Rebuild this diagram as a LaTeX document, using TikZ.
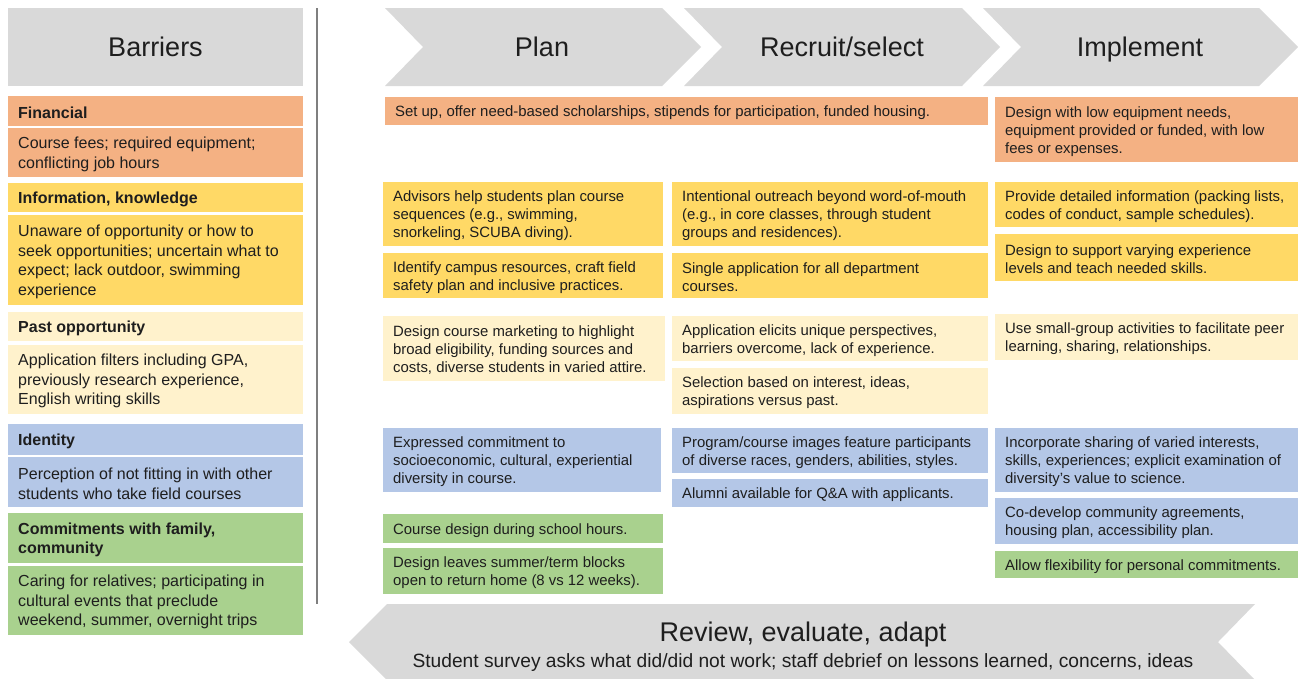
\documentclass[tikz,border=0pt]{standalone}
\usepackage{fontspec}
\setmainfont{Liberation Sans}
\definecolor{hdr}{HTML}{D9D9D9}
\definecolor{cor}{HTML}{F4B183}
\definecolor{cye}{HTML}{FFD966}
\definecolor{cly}{HTML}{FFF2CC}
\definecolor{cbl}{HTML}{B4C7E7}
\definecolor{cgr}{HTML}{A9D18E}
\definecolor{txt}{HTML}{1E1E1E}
\definecolor{vline}{HTML}{7F7F7F}
\tikzset{
  cellbox/.style={anchor=north west, inner sep=0pt, draw=none},
  cell/.style={anchor=west, inner xsep=0pt, inner ysep=0pt, align=left,
    text=txt, font=\fontsize{14.9}{18}\selectfont},
  lcell/.style={cell, font=\fontsize{16}{19.6}\selectfont},
  ltitle/.style={cell, font=\fontsize{16}{19.6}\selectfont\bfseries},
  hdrtext/.style={text=txt, font=\fontsize{27}{30}\selectfont, text height=19.5pt, text depth=5.5pt, inner sep=0pt},
  chev/.style={fill=hdr},
}
\newcommand\bx[7][]{%
  \pgfmathsetmacro\bw{#4-#2}\pgfmathsetmacro\bh{#5-#3}%
  \node[cellbox,fill=#6,minimum width=\bw pt,minimum height=\bh pt] (b#2-#3) at (#2,#3) {};
  \node[cell,#1] (t#2-#3) at ([xshift=10pt,yshift=-1.5pt]b#2-#3.west) {#7};}
\begin{document}
\begin{tikzpicture}[x=1pt,y=-1pt]
\useasboundingbox (0,0) rectangle (1298,678);
\begin{scope}
\clip (0,0) rectangle (1298,678);
% headers
\fill[hdr] (8,8) rectangle (303,86);
\node[hdrtext] (barriers) at (155.5,49) {Barriers};
\fill[chev] (385,8) -- (662,8) -- (701,47) -- (662,86) -- (385,86) -- (423,47) -- cycle;
\node[hdrtext] (plan) at (542,49) {Plan};
\fill[chev] (684,8) -- (962,8) -- (1000,47) -- (962,86) -- (684,86) -- (722,47) -- cycle;
\node[hdrtext] (recruit) at (842,49) {Recruit/select};
\fill[chev] (983,8) -- (1259,8) -- (1298,47) -- (1259,86) -- (983,86) -- (1021,47) -- cycle;
\node[hdrtext] (implement) at (1140,49) {Implement};
% divider
\coordinate (vtop) at (317,8);
\coordinate (vbot) at (317,604);
\draw[vline, line width=1.6pt] (vtop) -- (vbot);
% left column
\bx[ltitle]{8}{96}{303}{126}{cor}{Financial}
\bx[lcell]{8}{128}{303}{177}{cor}{Course fees; required equipment;\\conflicting job hours}
\bx[ltitle]{8}{183}{303}{212}{cye}{Information, knowledge}
\bx[lcell]{8}{215}{303}{305}{cye}{Unaware of opportunity or how to\\seek opportunities; uncertain what to\\expect; lack outdoor, swimming\\experience}
\bx[ltitle]{8}{312}{303}{341}{cly}{Past opportunity}
\bx[lcell]{8}{345}{303}{414}{cly}{Application filters including GPA,\\previously research experience,\\English writing skills}
\bx[ltitle]{8}{424}{303}{455}{cbl}{Identity}
\bx[lcell]{8}{457}{303}{507}{cbl}{Perception of not fitting in with other\\students who take field courses}
\bx[ltitle]{8}{513}{303}{563}{cgr}{Commitments with family,\\community}
\bx[lcell]{8}{566}{303}{635}{cgr}{Caring for relatives; participating in\\cultural events that preclude\\weekend, summer, overnight trips}
% orange row
\bx{385}{97}{988}{125}{cor}{Set up, offer need-based scholarships, stipends for participation, funded housing.}
\bx{995}{97}{1298}{162}{cor}{Design with low equipment needs,\\equipment provided or funded, with low\\fees or expenses.}
% yellow rows
\bx{383}{182}{663}{246}{cye}{Advisors help students plan course\\sequences (e.g., swimming,\\snorkeling, SCUBA diving).}
\bx{672}{182}{988}{246}{cye}{Intentional outreach beyond word-of-mouth\\(e.g., in core classes, through student\\groups and residences).}
\bx{995}{182}{1298}{227}{cye}{Provide detailed information (packing lists,\\codes of conduct, sample schedules).}
\bx{383}{253}{663}{298}{cye}{Identify campus resources, craft field\\safety plan and inclusive practices.}
\bx{672}{253}{988}{298}{cye}{Single application for all department\\courses.}
\bx{995}{234}{1298}{281}{cye}{Design to support varying experience\\levels and teach needed skills.}
% light yellow
\bx{383}{316}{665}{381}{cly}{Design course marketing to highlight\\broad eligibility, funding sources and\\costs, diverse students in varied attire.}
\bx{672}{316}{988}{361}{cly}{Application elicits unique perspectives,\\barriers overcome, lack of experience.}
\bx{672}{368}{988}{414}{cly}{Selection based on interest, ideas,\\aspirations versus past.}
\bx{995}{314}{1298}{360}{cly}{Use small-group activities to facilitate peer\\learning, sharing, relationships.}
% blue
\bx{383}{428}{661}{492}{cbl}{Expressed commitment to\\socioeconomic, cultural, experiential\\diversity in course.}
\bx{672}{428}{988}{473}{cbl}{Program/course images feature participants\\of diverse races, genders, abilities, styles.}
\bx{672}{479}{988}{507}{cbl}{Alumni available for Q\&A with applicants.}
\bx{995}{428}{1298}{492}{cbl}{Incorporate sharing of varied interests,\\skills, experiences; explicit examination of\\diversity's value to science.}
\bx{995}{498}{1298}{544}{cbl}{Co-develop community agreements,\\housing plan, accessibility plan.}
% green
\bx{383}{514}{663}{543}{cgr}{Course design during school hours.}
\bx{383}{548}{663}{594}{cgr}{Design leaves summer/term blocks\\open to return home (8 vs 12 weeks).}
\bx{995}{551}{1298}{578}{cgr}{Allow flexibility for personal commitments.}
% bottom arrow
\fill[chev] (387,604) -- (1255,604) -- (1218,642) -- (1255,680) -- (387,680) -- (349,642) -- cycle;
\node[hdrtext] (review) at (803,634) {Review, evaluate, adapt};
\node[text=txt, font=\fontsize{19.2}{22}\selectfont, inner sep=0pt, text height=13.8pt, text depth=4pt] (survey) at (803,663) {Student survey asks what did/did not work; staff debrief on lessons learned, concerns, ideas};
\end{scope}
\end{tikzpicture}
\end{document}
